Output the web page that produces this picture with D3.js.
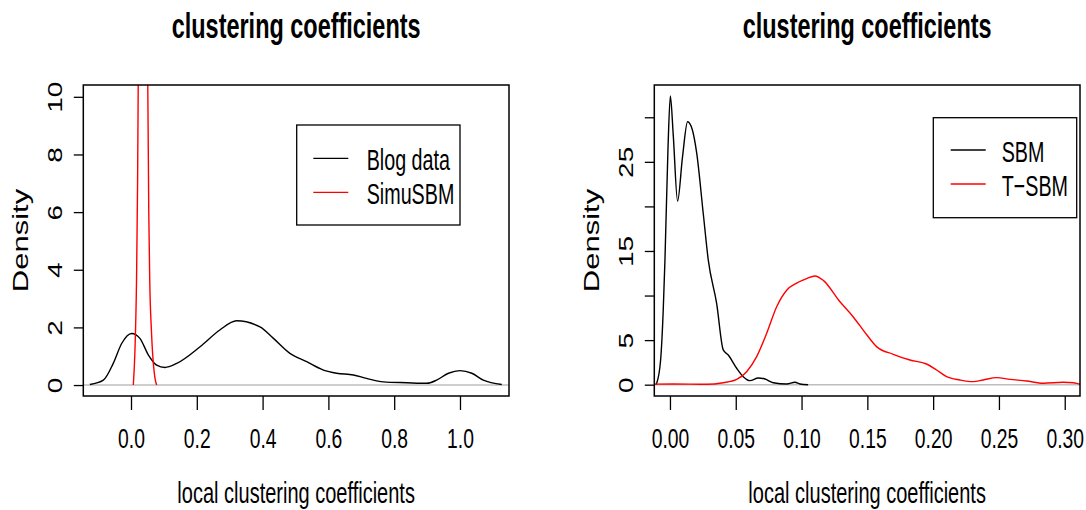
<!DOCTYPE html>
<html>
<head>
<meta charset="utf-8">
<script src="https://cdn.jsdelivr.net/npm/d3@7"></script>
<style>
  html, body { margin: 0; padding: 0; background: #fff; }
  svg { display: block; }
  text { font-family: "Liberation Sans", Arial, Helvetica, sans-serif; fill: #000; }
</style>
</head>
<body>
<svg id="chart" width="1086" height="510"></svg>
<script>
// ---- Panel 1: blog data vs simulated SBM ----
const blogX = [-0.125, -0.084, -0.054, -0.028, 0.002, 0.027, 0.053, 0.078, 0.103, 0.139, 0.21, 0.27, 0.321, 0.392, 0.433, 0.483, 0.534, 0.585, 0.625, 0.676, 0.716, 0.767, 0.838, 0.899, 0.929, 0.965, 1.0, 1.036, 1.071, 1.127];
const blogY = [0.02, 0.17, 0.75, 1.45, 1.79, 1.62, 1.04, 0.69, 0.61, 0.75, 1.33, 1.91, 2.23, 2.02, 1.62, 1.10, 0.81, 0.52, 0.41, 0.35, 0.23, 0.11, 0.08, 0.06, 0.17, 0.41, 0.50, 0.41, 0.17, 0.02];
const simuX = [0.007, 0.012, 0.017, 0.020, 0.024, 0.028, 0.032, 0.036, 0.040, 0.044, 0.048, 0.051, 0.054, 0.057, 0.062, 0.066, 0.070, 0.074, 0.078];
const simuY = [0, 1.2, 3.8, 7.0, 14, 24, 33, 38, 36, 27, 16, 10.4, 6.0, 3.6, 1.9, 1.04, 0.5, 0.17, 0];
const leftXTicks = [0, 0.2, 0.4, 0.6, 0.8, 1.0];
const leftYTicks = [0, 2, 4, 6, 8, 10];
const leftYLabels = [0, 2, 4, 6, 8, 10];
const leftLegend = ["Blog data", "SimuSBM"];

// ---- Panel 2: SBM vs T-SBM ----
const sbmX = [-0.0106, -0.0101, -0.0071, -0.0051, -0.0038, -0.0015, 0.0003, 0.0025, 0.0058, 0.0095, 0.0134, 0.017, 0.0203, 0.0253, 0.0291, 0.0355, 0.0405, 0.0443, 0.0507, 0.0557, 0.0608, 0.0671, 0.0722, 0.0785, 0.0887, 0.095, 0.0988, 0.105];
const sbmY = [0, 0.16, 2.77, 8.4, 14.0, 26.5, 32.4, 28.0, 20.6, 25.5, 29.5, 28.6, 26.0, 19.2, 14.0, 9.1, 3.9, 3.33, 1.84, 0.90, 0.45, 0.75, 0.64, 0.22, 0.08, 0.27, 0.08, 0];
const tsbmX = [-0.015, 0.0025, 0.0279, 0.0405, 0.0507, 0.0583, 0.0659, 0.0735, 0.0811, 0.0887, 0.0963, 0.1039, 0.1102, 0.1165, 0.1292, 0.1393, 0.1495, 0.157, 0.1697, 0.1824, 0.195, 0.2026, 0.2102, 0.2204, 0.2305, 0.238, 0.2482, 0.2584, 0.271, 0.2837, 0.2989, 0.3065, 0.3116, 0.316];
const tsbmY = [0.06, 0.08, 0.04, 0.22, 0.6, 1.46, 3.14, 5.77, 8.75, 10.6, 11.4, 11.9, 12.2, 11.7, 9.3, 7.6, 5.6, 4.27, 3.41, 2.77, 2.32, 1.65, 0.9, 0.53, 0.34, 0.53, 0.79, 0.6, 0.41, 0.16, 0.27, 0.22, 0.08, 0.05];
const rightXTicks = [0, 0.05, 0.10, 0.15, 0.20, 0.25, 0.30];
const rightYTicks = [0, 5, 10, 15, 20, 25, 30];
const rightYLabels = [0, 5, 15, 25];
const rightLegend = ["SBM", "T\u2212SBM"];

const titleText = "clustering coefficients";
const xTitle = "local clustering coefficients";
const yTitle = "Density";

const svg = d3.select("#chart");
const SQ = 0.69; // horizontal condensation of text

function drawPanel(cfg, id) {
  const x = d3.scaleLinear().domain(cfg.xDomain).range([cfg.left, cfg.right]);
  const y = d3.scaleLinear().domain(cfg.yDomain).range([cfg.bottom, cfg.top]);
  const g = svg.append("g");

  g.append("clipPath").attr("id", "clip" + id)
    .append("rect")
    .attr("x", cfg.left).attr("y", cfg.top)
    .attr("width", cfg.right - cfg.left).attr("height", cfg.bottom - cfg.top);

  const plot = g.append("g").attr("clip-path", `url(#clip${id})`);

  // zero reference line
  plot.append("line")
    .attr("x1", cfg.left).attr("x2", cfg.right)
    .attr("y1", y(0)).attr("y2", y(0))
    .attr("stroke", "#bebebe").attr("stroke-width", 1.6);

  const line = d3.line().x(d => x(d[0])).y(d => y(d[1])).curve(d3.curveMonotoneX);
  cfg.series.forEach(s => {
    plot.append("path")
      .datum(d3.zip(s.xs, s.ys))
      .attr("d", line)
      .attr("fill", "none")
      .attr("stroke", s.color)
      .attr("stroke-width", 1.4);
  });

  // frame
  g.append("rect")
    .attr("x", cfg.left).attr("y", cfg.top)
    .attr("width", cfg.right - cfg.left).attr("height", cfg.bottom - cfg.top)
    .attr("fill", "none").attr("stroke", "#000").attr("stroke-width", 1.5);

  // x axis
  const xa = g.append("g").attr("transform", `translate(0,${cfg.bottom})`)
    .call(d3.axisBottom(x).tickValues(cfg.xTicks).tickSize(14).tickFormat(cfg.xFormat));
  xa.select(".domain").remove();
  xa.selectAll(".tick line").attr("stroke", "#000").attr("stroke-width", 1.3);
  xa.selectAll(".tick text")
    .attr("y", 0).attr("dy", 0)
    .attr("transform", `translate(0,52) scale(${SQ},1)`)
    .style("font-size", "28px");

  // y axis
  const ya = g.append("g").attr("transform", `translate(${cfg.left},0)`)
    .call(d3.axisLeft(y).tickValues(cfg.yTicks).tickSize(9.5)
      .tickFormat(d => cfg.yLabels.includes(d) ? d3.format("d")(d) : ""));
  ya.select(".domain").remove();
  ya.selectAll(".tick line").attr("stroke", "#000").attr("stroke-width", 1.3);
  ya.selectAll(".tick text")
    .attr("x", 0).attr("dy", 0)
    .attr("text-anchor", "middle")
    .attr("transform", "translate(-21,0) scale(0.75,1) rotate(-90)")
    .style("font-size", "28px");

  const cx = (cfg.left + cfg.right) / 2;
  const cy = (cfg.top + cfg.bottom) / 2;

  // titles
  g.append("text")
    .attr("transform", `translate(${cx},38) scale(0.67,1)`)
    .attr("text-anchor", "middle")
    .style("font-size", "35px").style("font-weight", "bold")
    .text(titleText);
  g.append("text")
    .attr("transform", `translate(${cx},503) scale(${SQ},1)`)
    .attr("text-anchor", "middle")
    .style("font-size", "29px")
    .text(xTitle);
  g.append("text")
    .attr("transform", `translate(${cfg.left - 55.5},${cy}) scale(0.7,1) rotate(-90)`)
    .attr("text-anchor", "middle")
    .style("font-size", "31px")
    .text(yTitle);

  // legend
  const L = cfg.legend;
  g.append("rect")
    .attr("x", L.x0).attr("y", L.y0)
    .attr("width", L.x1 - L.x0).attr("height", L.y1 - L.y0)
    .attr("fill", "#fff").attr("stroke", "#000").attr("stroke-width", 1.3);
  L.labels.forEach((lab, i) => {
    const ly = L.rows[i];
    g.append("line")
      .attr("x1", L.lineX).attr("x2", L.lineX + 35)
      .attr("y1", ly).attr("y2", ly)
      .attr("stroke", cfg.series[i].color).attr("stroke-width", 1.3);
    g.append("text")
      .attr("transform", `translate(${L.textX},${ly + 11.8}) scale(0.68,1)`)
      .style("font-size", "29px")
      .text(lab);
  });
}

drawPanel({
  left: 83.3, right: 509, top: 85, bottom: 396,
  xDomain: [-0.145, 1.149], yDomain: [-0.38, 10.41],
  xTicks: leftXTicks, yTicks: leftYTicks, yLabels: leftYLabels,
  xFormat: d3.format(".1f"),
  series: [
    { xs: blogX, ys: blogY, color: "#000000" },
    { xs: simuX, ys: simuY, color: "#ff0000" }
  ],
  legend: { x0: 296.7, x1: 460, y0: 125, y1: 225, rows: [158.3, 192.3], lineX: 313.3, textX: 366.7, labels: leftLegend }
}, 1);

drawPanel({
  left: 654.3, right: 1080, top: 85, bottom: 396,
  xDomain: [-0.0119, 0.3116], yDomain: [-1.27, 33.62],
  xTicks: rightXTicks, yTicks: rightYTicks, yLabels: rightYLabels,
  xFormat: d3.format(".2f"),
  series: [
    { xs: sbmX, ys: sbmY, color: "#000000" },
    { xs: tsbmX, ys: tsbmY, color: "#ff0000" }
  ],
  legend: { x0: 933.3, x1: 1076.7, y0: 117.7, y1: 217.7, rows: [150, 184], lineX: 950.7, textX: 1001.7, labels: rightLegend }
}, 2);
</script>
</body>
</html>
